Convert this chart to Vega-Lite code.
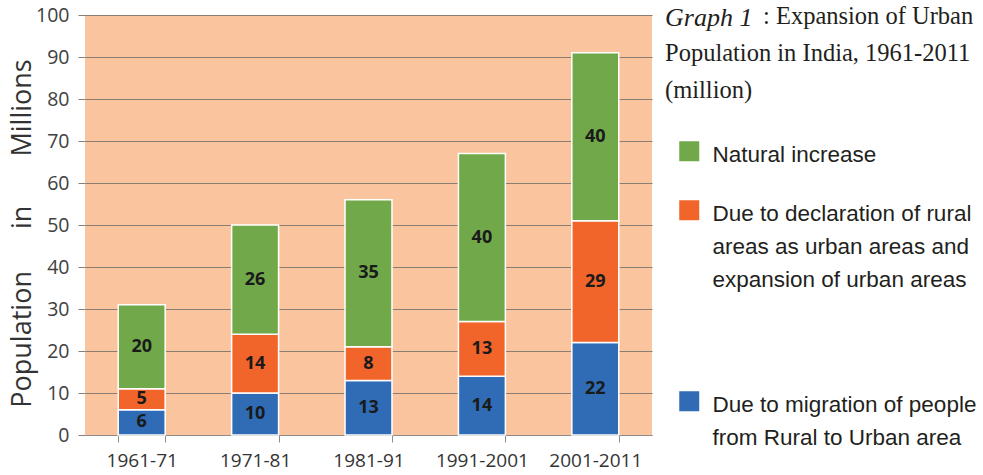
{
  "$schema": "https://vega.github.io/schema/vega-lite/v6.json",
  "autosize": "none",
  "width": 567,
  "height": 420,
  "padding": {"left": 85, "top": 15, "right": 331, "bottom": 40},
  "background": "white",
  "title": {
    "text": "Graph 1",
    "subtitle": ["\u200b\u00a0\u00a0\u00a0\u00a0\u00a0\u00a0\u00a0\u00a0\u00a0\u00a0\u00a0\u00a0\u00a0\u00a0\u00a0\u00a0: Expansion of Urban", "Population in India, 1961-2011", "(million)"],
    "orient": "top",
    "anchor": "start",
    "frame": "group",
    "offset": 0,
    "dx": 580,
    "dy": 98,
    "font": "Liberation Serif",
    "fontSize": 26,
    "fontStyle": "italic",
    "fontWeight": "normal",
    "color": "#231f20",
    "subtitleFont": "Liberation Serif",
    "subtitleFontSize": 24.5,
    "subtitleColor": "#231f20",
    "subtitleLineHeight": 37,
    "subtitlePadding": -26
  },
  "data": {
    "values": [
      {"period": "1961-71", "component": "Due to migration of people from Rural to Urban area", "rank": 1, "value": 6},
      {"period": "1961-71", "component": "Due to declaration of rural areas as urban areas and expansion of urban areas", "rank": 2, "value": 5},
      {"period": "1961-71", "component": "Natural increase", "rank": 3, "value": 20},
      {"period": "1971-81", "component": "Due to migration of people from Rural to Urban area", "rank": 1, "value": 10},
      {"period": "1971-81", "component": "Due to declaration of rural areas as urban areas and expansion of urban areas", "rank": 2, "value": 14},
      {"period": "1971-81", "component": "Natural increase", "rank": 3, "value": 26},
      {"period": "1981-91", "component": "Due to migration of people from Rural to Urban area", "rank": 1, "value": 13},
      {"period": "1981-91", "component": "Due to declaration of rural areas as urban areas and expansion of urban areas", "rank": 2, "value": 8},
      {"period": "1981-91", "component": "Natural increase", "rank": 3, "value": 35},
      {"period": "1991-2001", "component": "Due to migration of people from Rural to Urban area", "rank": 1, "value": 14},
      {"period": "1991-2001", "component": "Due to declaration of rural areas as urban areas and expansion of urban areas", "rank": 2, "value": 13},
      {"period": "1991-2001", "component": "Natural increase", "rank": 3, "value": 40},
      {"period": "2001-2011", "component": "Due to migration of people from Rural to Urban area", "rank": 1, "value": 22},
      {"period": "2001-2011", "component": "Due to declaration of rural areas as urban areas and expansion of urban areas", "rank": 2, "value": 29},
      {"period": "2001-2011", "component": "Natural increase", "rank": 3, "value": 40}
    ]
  },
  "encoding": {
    "x": {
      "field": "period",
      "type": "nominal",
      "sort": null,
      "scale": {"paddingInner": 0.586, "paddingOuter": 0.293},
      "axis": {
        "title": null,
        "labelAngle": 0,
        "labelFont": "Open Sans",
        "labelFontSize": 19,
        "labelColor": "#333333",
        "labelPadding": 9,
        "tickBand": "extent",
        "tickSize": 7,
        "tickColor": "#8c8c8c",
        "domainColor": "#8c8c8c",
        "domainWidth": 1,
        "grid": false
      }
    },
    "y": {
      "field": "value",
      "type": "quantitative",
      "stack": "zero",
      "scale": {"domain": [0, 100], "nice": false},
      "axis": {
        "title": "Population\u00a0\u00a0\u00a0\u00a0\u00a0\u00a0in\u00a0\u00a0\u00a0\u00a0\u00a0\u00a0\u00a0Millions",
        "titleFont": "Open Sans",
        "titleFontSize": 27,
        "titleFontWeight": "normal",
        "titleColor": "#333333",
        "titleBaseline": "middle",
        "titleX": -63,
        "titleY": 218,
        "values": [0, 10, 20, 30, 40, 50, 60, 70, 80, 90, 100],
        "labelFont": "Open Sans",
        "labelFontSize": 19.5,
        "labelColor": "#404040",
        "labelPadding": 9,
        "tickSize": 7,
        "tickColor": "#8a7d74",
        "gridColor": "#8a7d74",
        "gridWidth": 1,
        "domain": false
      }
    },
    "order": {"field": "rank", "type": "quantitative"}
  },
  "layer": [
    {
      "mark": {"type": "bar", "stroke": "white", "strokeWidth": 1.5},
      "encoding": {
        "color": {
          "field": "component",
          "type": "nominal",
          "scale": {
            "domain": ["Natural increase", "Due to declaration of rural areas as urban areas and expansion of urban areas", "Due to migration of people from Rural to Urban area"],
            "range": ["#71A84A", "#F1652A", "#2F6CB5"]
          },
          "legend": {
            "title": null,
            "orient": "none",
            "legendX": 593,
            "legendY": 125,
            "padding": 0,
            "symbolType": "square",
            "symbolSize": 400,
            "symbolStrokeWidth": 0,
            "labelFont": "Liberation Sans",
            "labelFontSize": 22.5,
            "labelColor": "#231f20",
            "labelLimit": 0,
            "labelOffset": 12,
            "labelBaseline": "top",
            "rowPadding": 32,
            "gridAlign": "each",
            "labelExpr": "datum.label == 'Natural increase' ? 'Natural increase' : indexof(datum.label, 'declaration') >= 0 ? ['Due to declaration of rural', 'areas as urban areas and', 'expansion of urban areas', '', ''] : ['Due to migration of people', 'from Rural to Urban area']",
            "encoding": {"labels": {"dy": {"value": -7}}}
          }
        }
      }
    },
    {
      "mark": {"type": "text", "font": "Open Sans", "fontWeight": "bold", "fontSize": 18, "color": "#1a1a1a", "baseline": "middle"},
      "encoding": {
        "y": {"field": "value", "type": "quantitative", "stack": "zero", "bandPosition": 0.5},
        "text": {"field": "value", "type": "quantitative"},
        "detail": {"field": "component", "type": "nominal"}
      }
    }
  ],
  "config": {
    "view": {"fill": "#FAC59E", "stroke": null},
    "style": {"guide-label": {"lineHeight": 33}}
  }
}
